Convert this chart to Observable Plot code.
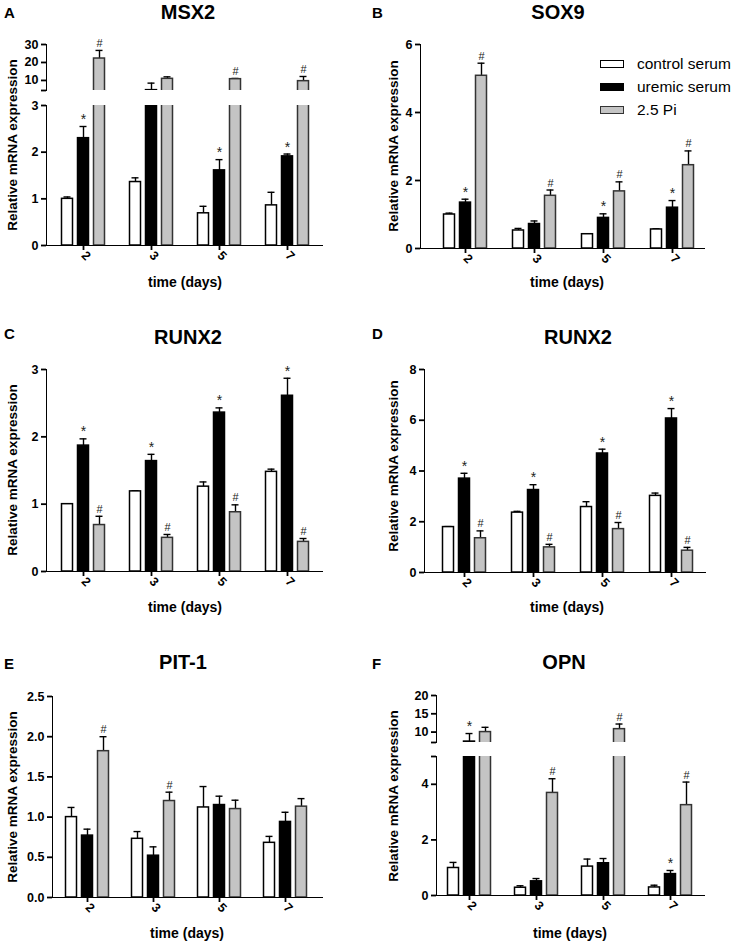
<!DOCTYPE html>
<html><head><meta charset="utf-8">
<script src="https://cdn.jsdelivr.net/npm/d3@7"></script>
<script src="https://cdn.jsdelivr.net/npm/@observablehq/plot@0.6"></script>
<style>
body{margin:0;background:#fff;}
#root{position:relative;width:737px;height:944px;font-family:"Liberation Sans",Arial,sans-serif;color:#000;overflow:hidden;background:#fff}
.abs{position:absolute}
.title{font-weight:bold;font-size:20px;transform:translate(-50%,-50%);white-space:nowrap}
.letter{font-weight:bold;font-size:15px;transform:translate(0,-50%)}
.xlab{font-weight:bold;font-size:14px;transform:translate(-50%,-50%);white-space:nowrap}
.ylab{font-weight:bold;font-size:13.5px;transform:translate(-50%,-50%) rotate(-90deg);white-space:nowrap}
.leg{font-size:15.5px;white-space:nowrap;transform:translate(0,-50%)}
.legbox{box-sizing:border-box;width:24px;height:8px;transform:translate(0,-50%)}
g[aria-label*="axis"] line, g[aria-label*="axis"] path {stroke-width:1.8px}
</style>
</head><body><div id="root"></div>
<script>
const days = ["2","3","5","7"];
const seriesNames = ["control serum","uremic serum","2.5 Pi"];

// A: MSX2
const msx2Mean = [[1.00,1.36,0.69,0.86],[2.30,4.6,1.61,1.91],[22.2,10.9,10.7,9.6]];
const msx2Sem  = [[0.04,0.09,0.15,0.28],[0.25,3.9,0.23,0.05],[4.5,1.1,0.4,2.6]];
const msx2Sig  = [["","","",""],["*","","*","*"],["#","","#","#"]];
// B: SOX9
const sox9Mean = [[1.00,0.53,0.42,0.56],[1.35,0.72,0.90,1.20],[5.08,1.55,1.68,2.45]];
const sox9Sem  = [[0.04,0.06,0.01,0.02],[0.10,0.09,0.12,0.21],[0.37,0.17,0.28,0.42]];
const sox9Sig  = [["","","",""],["*","","*","*"],["#","#","#","#"]];
// C: RUNX2
const runx2cMean = [[1.00,1.19,1.26,1.48],[1.87,1.64,2.36,2.61],[0.69,0.50,0.88,0.44]];
const runx2cSem  = [[0.00,0.01,0.07,0.04],[0.10,0.10,0.07,0.26],[0.13,0.05,0.11,0.05]];
const runx2cSig  = [["","","",""],["*","*","*","*"],["#","#","#","#"]];
// D: RUNX2
const runx2dMean = [[1.79,2.36,2.58,3.02],[3.70,3.25,4.69,6.07],[1.35,0.99,1.71,0.86]];
const runx2dSem  = [[0.02,0.05,0.21,0.11],[0.21,0.21,0.17,0.39],[0.29,0.12,0.26,0.13]];
const runx2dSig  = [["","","",""],["*","*","*","*"],["#","#","#","#"]];
// E: PIT-1
const pit1Mean = [[1.00,0.73,1.12,0.68],[0.77,0.52,1.15,0.94],[1.82,1.20,1.10,1.13]];
const pit1Sem  = [[0.12,0.09,0.26,0.08],[0.08,0.11,0.11,0.12],[0.18,0.11,0.11,0.10]];
const pit1Sig  = [["","","",""],["","","",""],["#","#","",""]];
// F: OPN
const opnMean = [[0.99,0.28,1.04,0.29],[7.4,0.51,1.16,0.77],[10.0,3.69,10.8,3.25]];
const opnSem  = [[0.20,0.07,0.27,0.08],[2.2,0.10,0.17,0.13],[1.3,0.51,1.4,0.83]];
const opnSig  = [["","","",""],["*","","","*"],["","#","#","#"]];

const fills = ["#ffffff","#000000","#c4c4c4"];
const strokes = ["#000000","#000000","#333333"];

function rowsOf(mean, sem, sig){
  const out = [];
  seriesNames.forEach((s,i)=>days.forEach((d,j)=>out.push({day:d, si:i, series:s, mean:mean[i][j], hi:mean[i][j]+sem[i][j], sig:sig[i][j]})));
  return out;
}

const panels = [
  {letter:"A", title:"MSX2", rows:rowsOf(msx2Mean,msx2Sem,msx2Sig), L:46, R:322, c0:82, c3:287,
   lower:{top:105,bottom:245,domain:[0,3],ticks:[0,1,2,3],fmt:d=>d},
   upper:{top:44,bottom:90,domain:[4.4,30],ticks:[4.4,10,20,30],fmt:d=>d<5?"":d},
   tx:188,ty:12,lx:4,ly:12,ylx:12,yly:145,xlx:185,xly:282},
  {letter:"B", title:"SOX9", rows:rowsOf(sox9Mean,sox9Sem,sox9Sig), L:420, R:704, c0:464, c3:672,
   lower:{top:44,bottom:248,domain:[0,6],ticks:[0,2,4,6],fmt:d=>d},
   tx:558,ty:12,lx:372,ly:12,ylx:393,yly:146,xlx:567,xly:282, legend:true},
  {letter:"C", title:"RUNX2", rows:rowsOf(runx2cMean,runx2cSem,runx2cSig), L:46, R:322, c0:82, c3:287,
   lower:{top:369,bottom:571,domain:[0,3],ticks:[0,1,2,3],fmt:d=>d},
   tx:188,ty:337,lx:4,ly:333,ylx:12,yly:470,xlx:185,xly:607},
  {letter:"D", title:"RUNX2", rows:rowsOf(runx2dMean,runx2dSem,runx2dSig), L:424, R:705, c0:464, c3:671,
   lower:{top:369,bottom:572,domain:[0,8],ticks:[0,2,4,6,8],fmt:d=>d},
   tx:578,ty:337,lx:372,ly:333,ylx:393,yly:466,xlx:567,xly:607},
  {letter:"E", title:"PIT-1", rows:rowsOf(pit1Mean,pit1Sem,pit1Sig), L:52, R:322, c0:86, c3:286,
   lower:{top:696,bottom:897,domain:[0,2.5],ticks:[0,0.5,1,1.5,2,2.5],fmt:d3.format(".1f")},
   tx:183,ty:662,lx:4,ly:663,ylx:12,yly:797,xlx:187,xly:933},
  {letter:"F", title:"OPN", rows:rowsOf(opnMean,opnSem,opnSig), L:436, R:704, c0:469, c3:670,
   lower:{top:756,bottom:895,domain:[0,5],ticks:[0,2,4,5],fmt:d=>d===5?"":d},
   upper:{top:695,bottom:742,domain:[7.15,20],ticks:[7.15,10,15,20],fmt:d=>d<8?"":d},
   tx:564,ty:662,lx:372,ly:663,ylx:393,yly:796,xlx:570,xly:933}
];

const root = document.getElementById("root");
function addDiv(cls, x, y, text){
  const el = document.createElement("div");
  el.className = "abs " + cls;
  el.style.left = x + "px"; el.style.top = y + "px";
  if (text != null) el.textContent = text;
  root.appendChild(el);
  return el;
}

function sub(p, seg, isLower){
  const ml = 40, mr = 8, mt = 10, mb = isLower ? 36 : 4;
  const W = p.R - p.L, H = seg.bottom - seg.top;
  const step = (p.c3 - p.c0)/3, bw = 48, pi = 1 - bw/step;
  const po = (W/step - (4 - pi))/2;
  const free = W - step*(4 - pi);
  const align = Math.max(0, Math.min(1, (p.c0 - p.L - bw/2)/free));
  const [lo, hi] = seg.domain;
  const marks = [];
  seriesNames.forEach((s,i)=>{
    const data = p.rows.filter(d=>d.si===i);
    const dx = (i-1)*16;
    marks.push(Plot.ruleX(data, {x:"day", y1:"mean", y2:"hi", dx, stroke:"#000", strokeWidth:1.4, clip:true}));
    marks.push(Plot.tickY(data, {x:"day", y:"hi", dx, insetLeft:20.5, insetRight:20.5, stroke:"#000", strokeWidth:1.4, clip:true}));
    marks.push(Plot.barY(data, {x:"day", y:"mean", dx, insetLeft:18.5, insetRight:18.5, fill:fills[i], stroke:strokes[i], strokeWidth:1.5, clip:true}));
    marks.push(Plot.text(data, {x:"day", y:"hi", dx, dy:-7, text:"sig", filter:d=>d.sig && d.hi>=lo && d.hi<=hi,
      fontSize:d=>d.sig==="*"?14:11, fontWeight:"normal", fill:"#222"}));
  });
  const svg = Plot.plot({
    width: W + ml + mr, height: H + mt + mb,
    marginLeft: ml, marginRight: mr, marginTop: mt, marginBottom: mb,
    style:{fontFamily:"'Liberation Sans', Arial, sans-serif", fontSize:"12.5px", fontWeight:"bold", color:"#000", background:"transparent", overflow:"visible", maxWidth:"none"},
    x: {domain:days, paddingInner:pi, paddingOuter:po, align, label:null, tickSize:5, tickPadding:3, tickRotate:45, line:true, axis: isLower ? "bottom" : null},
    y: {domain:seg.domain, ticks:seg.ticks, tickFormat:seg.fmt, label:null, tickSize:5, tickPadding:3, line:true},
    marks
  });
  const holder = addDiv("", p.L - ml, seg.top - mt);
  holder.style.width = (W + ml + mr) + "px";
  holder.appendChild(svg);
}

panels.forEach(p=>{
  addDiv("letter", p.lx, p.ly, p.letter);
  addDiv("title", p.tx, p.ty, p.title);
  addDiv("ylab", p.ylx, p.yly, "Relative mRNA expression");
  addDiv("xlab", p.xlx, p.xly, "time (days)");
  sub(p, p.lower, true);
  if (p.upper) sub(p, p.upper, false);
  if (p.legend){
    seriesNames.forEach((s,i)=>{
      const y = 64 + i*23;
      const b = addDiv("legbox", 600, y);
      b.style.background = fills[i];
      b.style.border = "1.5px solid " + strokes[i];
      addDiv("leg", 637, y, s);
    });
  }
});
</script>
</body></html>
